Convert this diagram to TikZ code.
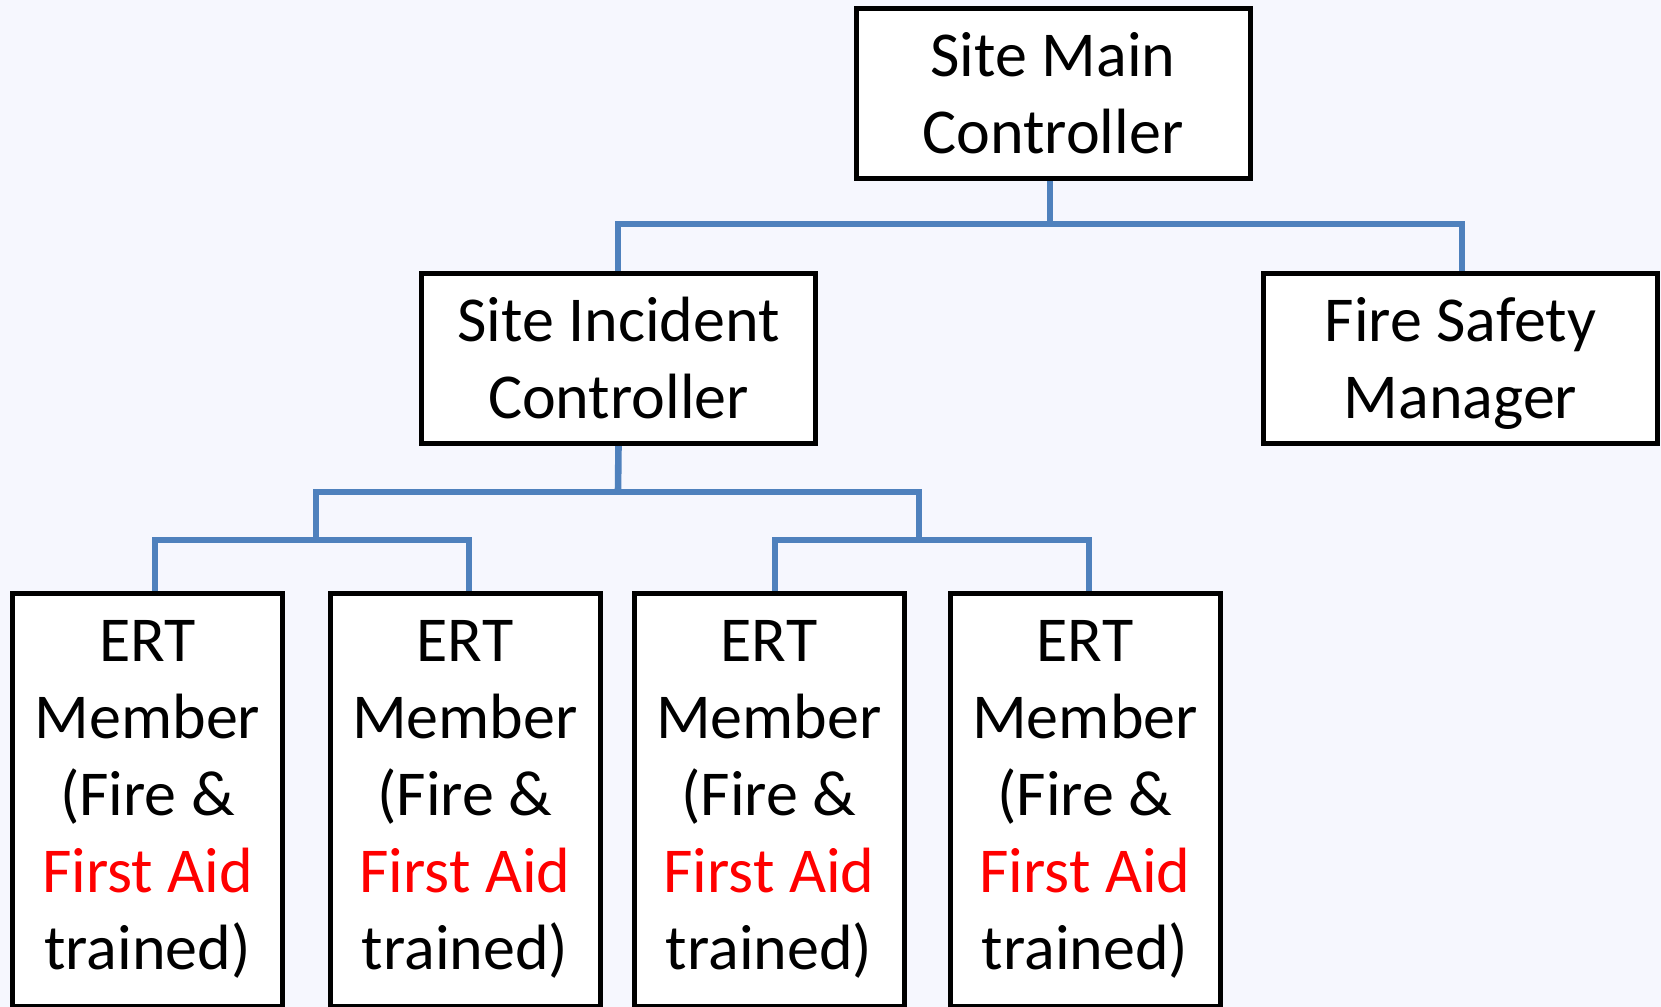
\documentclass[tikz,border=0pt]{standalone}
\usepackage{fontspec}
\setmainfont{Carlito}
\usetikzlibrary{backgrounds}
\definecolor{bgcol}{HTML}{F6F7FE}
\definecolor{connblue}{HTML}{4F81BD}
\definecolor{aidred}{HTML}{FF0000}
\begin{document}
\begin{tikzpicture}[x=0.5pt,y=-0.5pt,
  box/.style={draw=black, line width=2.5pt, fill=white, rectangle, inner sep=0pt,
    align=center, font=\fontsize{32}{38.5}\selectfont},
  topbox/.style={box, minimum width=197pt, minimum height=85pt, text depth=0pt},
  ertbox/.style={box, minimum width=135pt, minimum height=206.25pt},
  conn/.style={draw=connblue, line width=3.3pt}]
\useasboundingbox (0,0) rectangle (1661,1007);
\node[topbox] (smc) at (1053,93) {Site Main\\Controller};
\node[topbox] (sic) at (618.5,358) {Site Incident\\Controller};
\node[topbox] (fsm) at (1460.5,358) {Fire Safety\\Manager};
\node[ertbox] (e1) at (147.5,799.75) {ERT\\Member\\(Fire \&\\\textcolor{aidred}{First Aid}\\trained)};
\node[ertbox] (e2) at (465,799.75) {ERT\\Member\\(Fire \&\\\textcolor{aidred}{First Aid}\\trained)};
\node[ertbox] (e3) at (769,799.75) {ERT\\Member\\(Fire \&\\\textcolor{aidred}{First Aid}\\trained)};
\node[ertbox] (e4) at (1085,799.75) {ERT\\Member\\(Fire \&\\\textcolor{aidred}{First Aid}\\trained)};
\coordinate (j1) at (1050,224);
\coordinate (j2) at (618,492);
\coordinate (j3) at (316,540);
\coordinate (j4) at (919,540);
\begin{pgfonlayer}{background}
\fill[bgcol] (0,0) rectangle (1661,1007);
\draw[conn] ([xshift=-1.5pt]smc.south) -- (j1);
\draw[conn] ([xshift=-0.25pt]sic.north) |- (j1) -| ([xshift=0.75pt]fsm.north);
\draw[conn] (sic.south) -- (j2);
\draw[conn] (j3) |- (j2) -| (j4);
\draw[conn] ([xshift=3.75pt]e1.north) |- (j3) -| ([xshift=2pt]e2.north);
\draw[conn] ([xshift=3pt]e3.north) |- (j4) -| ([xshift=2pt]e4.north);
\end{pgfonlayer}
\end{tikzpicture}
\end{document}
